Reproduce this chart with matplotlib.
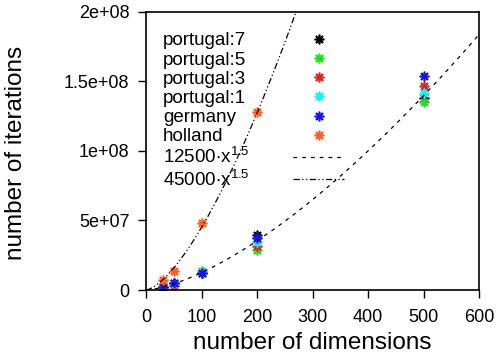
import numpy as np
import matplotlib
matplotlib.use('Agg')
import matplotlib.pyplot as plt

plt.rcParams['font.family'] = ['Liberation Sans', 'DejaVu Sans']
plt.rcParams['mathtext.default'] = 'regular'

dims = [30, 50, 100, 200, 500]
portugal7 = [2.2e6, 4.8e6, 1.22e7, 3.95e7, 1.38e8]
portugal5 = [1.5e6, 3.8e6, 1.35e7, 2.9e7, 1.35e8]
portugal3 = [1.6e6, 3.2e6, 1.2e7, 3.2e7, 1.47e8]
portugal1 = [2.0e6, 4.2e6, 1.28e7, 3.45e7, 1.42e8]
germany = [2.4e6, 5.3e6, 1.25e7, 3.75e7, 1.54e8]
holland_dims = [30, 50, 100, 200]
holland = [7.2e6, 1.4e7, 4.8e7, 1.28e8]

series = [
    ('portugal:7', dims, portugal7, 'black'),
    ('portugal:5', dims, portugal5, '#22dd22'),
    ('portugal:3', dims, portugal3, '#ee1c1c'),
    ('portugal:1', dims, portugal1, '#22eeee'),
    ('germany', dims, germany, '#1414e6'),
    ('holland', holland_dims, holland, '#ff6020'),
]

fig = plt.figure(figsize=(4.97, 3.63), dpi=100)
ax = fig.add_axes([0.2938, 0.2011, 0.67, 0.766])

for name, xs, ys, c in series:
    ax.plot(xs, ys, linestyle='none', marker=(8, 2, 0), markersize=7,
            markeredgewidth=1.2, color=c, label=name)

xx = np.linspace(0, 600, 400)
ax.plot(xx, 12500 * xx ** 1.5, color='black', lw=0.9, linestyle=(0, (3, 4)),
        label='12500$\\cdot$x$^{1.5}$')
ax.plot(xx, 45000 * xx ** 1.5, color='black', lw=0.9,
        linestyle=(0, (5, 2, 1, 2, 1, 2)), label='45000$\\cdot$x$^{1.5}$')

ax.set_xlim(0, 600)
ax.set_ylim(0, 2e8)
ax.set_xticks([0, 100, 200, 300, 400, 500, 600])
ax.set_yticks([0, 5e7, 1e8, 1.5e8, 2e8])
ax.set_yticklabels(['0', '5e+07', '1e+08', '1.5e+08', '2e+08'])
ax.tick_params(direction='out', length=6, width=1, labelsize=13)
ax.tick_params(axis='x', pad=8)
ax.tick_params(axis='y', pad=6)
for s in ax.spines.values():
    s.set_linewidth(1.2)

ax.set_xlabel('number of dimensions', fontsize=17.5)
ax.set_ylabel('number of iterations', fontsize=17.5)
ax.xaxis.set_label_coords(0.5, -0.151)
ax.yaxis.set_label_coords(-0.357, 0.493)

# legend: handles column and text column drawn separately so texts are left aligned
handles, labels = ax.get_legend_handles_labels()
leg_h = ax.legend(handles, labels, loc='upper left', frameon=False,
                  fontsize=13.5, handlelength=2.77, handletextpad=0,
                  labelspacing=0.11, borderpad=0, borderaxespad=0,
                  bbox_to_anchor=(0.44, 0.927))
for t in leg_h.get_texts():
    t.set_alpha(0)
ax.add_artist(leg_h)

leg_t = ax.legend(handles, labels, loc='upper left', frameon=False,
                  fontsize=13.5, handlelength=0, handletextpad=0,
                  labelspacing=0.11, borderpad=0, borderaxespad=0,
                  bbox_to_anchor=(0.051, 0.927))
for h in leg_t.legend_handles:
    h.set_visible(False)

fig.savefig('out.png', dpi=100)
